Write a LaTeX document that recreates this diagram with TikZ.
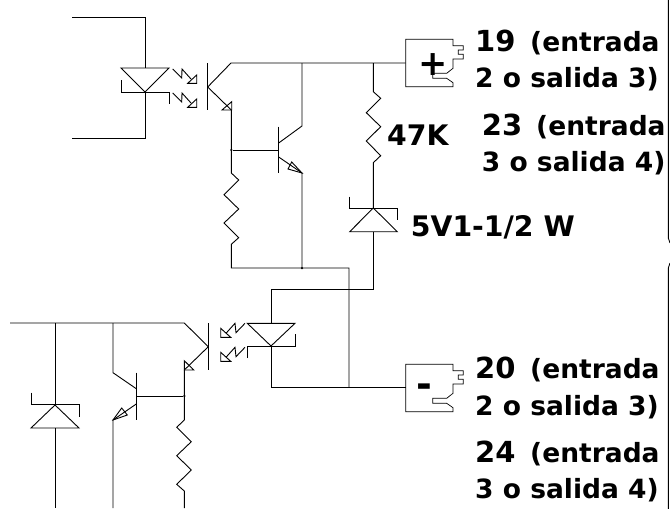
\documentclass[tikz,border=0pt]{standalone}
\usepackage{fontspec}
\setmainfont{DejaVu Sans}
\usetikzlibrary{positioning}

\tikzset{
  wire/.style={line width=0.9pt, line join=miter},
  dot/.style={circle, fill=black, inner sep=0pt, minimum size=2.5pt},
  num/.style={anchor=base west, inner sep=0pt, font=\fontsize{29}{29}\selectfont\bfseries},
  lbl/.style={anchor=base west, inner sep=0pt, font=\fontsize{26.5}{26.5}\selectfont\bfseries},
  lblb/.style={lbl, font=\fontsize{28.3}{28.3}\selectfont\bfseries},
  sign/.style={inner sep=0pt, font=\fontsize{35}{35}\selectfont\bfseries},
}

\begin{document}
\begin{tikzpicture}[x=1pt, y=-1pt]
  \useasboundingbox (0,0) rectangle (670,509);

  % terminales
  \foreach \y in {0,325} {
    \draw[wire, line width=0.7pt, yshift=-\y pt] (405.7,39.3) -- (453,39.3) -- (453,45.7) -- (463.3,45.7) -- (463.3,50) -- (458.3,50) -- (458.3,54.3) -- (463.3,54.3) -- (463.3,59) -- (453,59)
      -- (453,68.3) -- (446.7,73.3) -- (432.7,73.3) -- (432.7,78.3) -- (446.7,78.3) -- (453,82.7) -- (453,86.7) -- (405.7,86.7) -- cycle;
  }
  \node[sign] (mas) at (432.9,65) {+};
  \node[sign, font=\fontsize{38}{38}\selectfont\bfseries] (menos) at (424.2,391) {-};

  % optoacoplador de arriba
  \draw[wire] (72,17) -- (145,17) -- (145,68);
  \draw[wire] (121,68) -- (169,68) -- (145,92) -- cycle;
  \draw[wire] (121,80) -- (121,92) -- (169,92) -- (169,104);
  \draw[wire] (145,92) -- (145,138) -- (72,138);
  \foreach \y in {0,24} {
    \draw[wire, yshift=-\y pt] (172.7,69) -- (181.7,78) -- (182,69) -- (191,79);
    \draw[wire, yshift=-\y pt] (196.7,75) -- (196.7,83.3) -- (187.7,83.3) -- cycle;
  }
  \draw[wire] (207.7,63) -- (207.7,110);
  \draw[wire] (405.7,63) -- (231,63) -- (207.7,87) -- (231.3,110);
  \draw[wire] (231.7,101.7) -- (231.7,110) -- (222,110) -- cycle;
  \draw[wire] (231.3,110) -- (231.3,173) -- (238.7,180) -- (224,194.7) -- (238.7,209) -- (224,223) -- (238.7,237.7) -- (231.3,244.3) -- (231.3,268) -- (349,268) -- (349,387);
  \node[dot] (j1) at (231.3,150) {};
  \draw[wire] (j1) -- (278.7,150);
  \draw[wire] (278.7,126.7) -- (278.7,173);
  \draw[wire] (302,63) -- (302,126) -- (278.7,143);
  \draw[wire] (278.7,157) -- (302,173) -- (302,268);
  \draw[wire] (302,173) -- (291.7,162) -- (288,169) -- cycle;
  \node[dot] (j2) at (302,268) {};

  % resistencia y zener
  \draw[wire] (373.3,63) -- (373.3,91.7) -- (380.7,98.3) -- (366.3,112.7) -- (380.7,126.7) -- (366.3,141) -- (380.7,155.7) -- (373.3,162.7) -- (373.3,208);
  \draw[wire] (373.3,208) -- (397.3,231.7) -- (349.7,231.7) -- cycle;
  \draw[wire] (349.7,196.7) -- (349.7,208) -- (397.3,208) -- (397.3,220);
  \draw[wire] (373.3,231.7) -- (373.3,289.3) -- (271,289.3) -- (271,323.3);

  % optoacoplador de abajo
  \draw[wire] (247.3,323.3) -- (295,323.3) -- (271,346) -- cycle;
  \draw[wire] (247.3,358) -- (247.3,346) -- (295,346) -- (295,334);
  \draw[wire] (271,346) -- (271,387.3) -- (405.7,387.3);
  \foreach \y in {0,24} {
    \draw[wire, yshift=-\y pt] (245,323.3) -- (236,332.7) -- (235,323.3) -- (226,333.3);
    \draw[wire, yshift=-\y pt] (220.7,328.3) -- (220.7,337.3) -- (230.7,337.3) -- cycle;
  }
  \draw[wire] (208.3,323) -- (208.3,370);
  \draw[wire] (10,323) -- (184.3,323) -- (208.3,346.7) -- (184.3,370);
  \draw[wire] (184.3,360.7) -- (184.3,370) -- (193.7,370) -- cycle;
  \draw[wire] (184.3,370) -- (184.3,420) -- (176.7,427.3) -- (191.3,441.7) -- (176.7,455.7) -- (191.3,470) -- (176.7,484.3) -- (184.3,491) -- (184.3,508);
  \node[dot] (j3) at (184.3,396) {};
  \draw[wire] (j3) -- (136.7,396);
  \draw[wire] (136.7,372.7) -- (136.7,420);
  \draw[wire] (113,323) -- (113,372.7) -- (136.7,389);
  \draw[wire] (136.7,403.7) -- (113,420) -- (113,508);
  \draw[wire] (113,420) -- (121.7,408) -- (127.3,415) -- cycle;
  \draw[wire] (55,323) -- (55,405);
  \draw[wire] (55,405) -- (79,428) -- (31,428) -- cycle;
  \draw[wire] (31,392.7) -- (31,404.7) -- (79,404.7) -- (79,417);
  \draw[wire] (55,428) -- (55,508);

  % bordes
  \draw[wire] (668.3,0) -- (668.3,238) -- (670,243);
  \draw[wire] (670,263) -- (668.3,268) -- (668.3,509);

  % textos
  \node[num] (t19) at (475,51.7) {19};
  \node[lbl] (t19b) at (530,51.7) {(entrada};
  \node[lbl] (t19c) at (475,87.3) {2 o salida 3)};
  \node[num] (t23) at (481.7,135) {23};
  \node[lbl] (t23b) at (536,135) {(entrada};
  \node[lbl] (t23c) at (481.7,171.7) {3 o salida 4)};
  \node[lblb] (r47) at (387,145.7) {47K};
  \node[lblb] (z5) at (410.7,236.7) {5V1-1/2 W};
  \node[num] (t20) at (475,378) {20};
  \node[lbl] (t20b) at (530,378) {(entrada};
  \node[lbl] (t20c) at (475,415.7) {2 o salida 3)};
  \node[num] (t24) at (475,462.3) {24};
  \node[lbl] (t24b) at (530,462.3) {(entrada};
  \node[lbl] (t24c) at (475,498.3) {3 o salida 4)};
\end{tikzpicture}
\end{document}
